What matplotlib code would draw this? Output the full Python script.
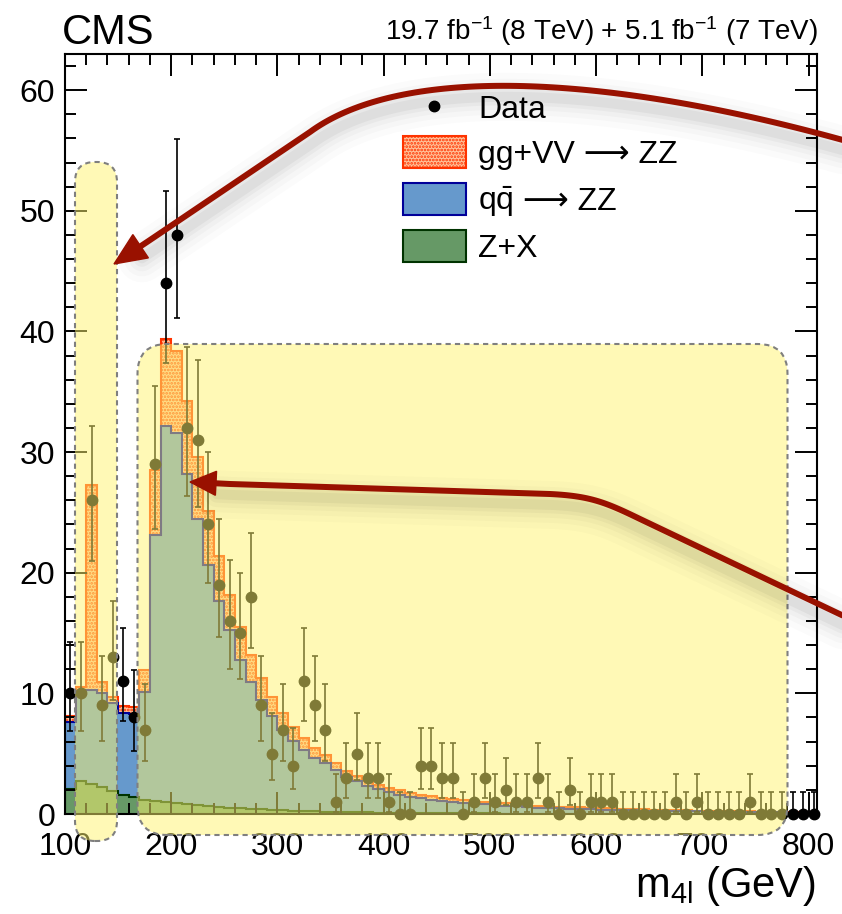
import math
import numpy as np
import matplotlib
matplotlib.use("Agg")
import matplotlib.pyplot as plt
from matplotlib.patches import FancyBboxPatch, Polygon, Rectangle
from matplotlib.lines import Line2D
from matplotlib.ticker import MultipleLocator

plt.rcParams['font.family'] = ['Liberation Sans', 'DejaVu Sans']
plt.rcParams['mathtext.fontset'] = 'custom'
plt.rcParams['mathtext.rm'] = 'Liberation Sans'
plt.rcParams['mathtext.it'] = 'Liberation Sans:italic'
plt.rcParams['mathtext.bf'] = 'Liberation Sans:bold'
plt.rcParams['hatch.linewidth'] = 1.3

# m4l spectrum, 10 GeV bins starting at 100 GeV
bin_start = 100
bin_width = 10

n_obs = [10, 10, 26, 9, 13, 11, 8, 7, 29, 44,
         48, 32, 31, 24, 19, 16, 15, 18, 9, 5,
         7, 4, 11, 9, 7, 1, 3, 5, 3, 3,
         1, 0, 0, 4, 4, 3, 3, 0, 1, 3,
         1, 2, 1, 1, 3, 1, 0, 2, 0, 1,
         1, 1, 0, 0, 0, 0, 0, 1, 0, 1,
         0, 0, 0, 0, 1, 0, 0, 0, 0, 0,
         0]

zx_bkg = [2.1, 2.7, 2.5, 2.2, 1.9, 1.6, 1.4, 1.2, 1.1, 1.0,
          0.9, 0.8, 0.72, 0.65, 0.58, 0.52, 0.47, 0.42, 0.38, 0.34,
          0.3, 0.27, 0.24, 0.22, 0.2, 0.18, 0.16, 0.14, 0.13, 0.12,
          0.11, 0.1, 0.09, 0.08, 0.07, 0.07, 0.06, 0.06, 0.05, 0.05,
          0.05, 0.04, 0.04, 0.04, 0.03, 0.03, 0.03, 0.03, 0.03, 0.02,
          0.02, 0.02, 0.02, 0.02, 0.02, 0.02, 0.02, 0.02, 0.02, 0.02,
          0.02, 0.02, 0.02, 0.01, 0.01, 0.01, 0.01, 0.01, 0.01, 0.01,
          0.01]

qq_zz = [5.55, 7.5, 7.8, 7.8, 7.3, 6.8, 6.9, 8.9, 22.0, 31.15,
         30.65, 27.4, 23.7, 19.95, 17.1, 14.7, 12.3, 10.55, 9.05, 7.75,
         6.65, 5.8, 5.05, 4.4, 4.0, 3.47, 2.94, 2.59, 2.19, 1.92,
         1.69, 1.5, 1.34, 1.22, 1.12, 1.03, 0.94, 0.88, 0.81, 0.75,
         0.68, 0.64, 0.59, 0.54, 0.5, 0.47, 0.44, 0.41, 0.39, 0.36,
         0.34, 0.32, 0.3, 0.28, 0.26, 0.24, 0.23, 0.21, 0.2, 0.19,
         0.18, 0.17, 0.16, 0.15, 0.14, 0.13, 0.12, 0.11, 0.1, 0.09,
         0.09]

gg_zz = [0.5, 0.35, 17.0, 0.95, 0.5, 0.55, 0.6, 1.8, 5.4, 7.2,
         6.8, 6.0, 5.2, 4.5, 3.7, 2.95, 2.7, 2.25, 1.85, 1.6,
         1.44, 1.13, 0.97, 0.84, 0.7, 0.55, 0.5, 0.42, 0.41, 0.36,
         0.35, 0.35, 0.34, 0.3, 0.27, 0.25, 0.25, 0.23, 0.24, 0.2,
         0.21, 0.2, 0.17, 0.17, 0.17, 0.16, 0.15, 0.14, 0.14, 0.14,
         0.13, 0.12, 0.11, 0.11, 0.1, 0.1, 0.09, 0.09, 0.08, 0.08,
         0.08, 0.07, 0.07, 0.06, 0.06, 0.06, 0.06, 0.06, 0.06, 0.06,
         0.05]

# each legend label is a list of pieces, drawn one after another
legend_labels = [['Data'], ['gg+VV \u27f6 ZZ'],
                 [r'q$\bar{\mathrm{q}}$', ' \u27f6 ZZ'], ['Z+X']]
lumi_text = r'19.7 fb$^{-1}$ (8 TeV) + 5.1 fb$^{-1}$ (7 TeV)'

W, H = 842, 914


def poisson_cdf(k, mu):
    term = math.exp(-mu)
    s = term
    for i in range(1, k + 1):
        term *= mu / i
        s += term
    return s


def bisect(f, lo, hi):
    for _ in range(80):
        mid = 0.5 * (lo + hi)
        if f(mid) > 0:
            lo = mid
        else:
            hi = mid
    return 0.5 * (lo + hi)


def garwood(n, cl=0.6827):
    # classic central Poisson interval for an observed count
    a = (1 - cl) / 2
    up = bisect(lambda mu: poisson_cdf(n, mu) - a, 0, n + 10 + 6 * math.sqrt(n + 1))
    if n == 0:
        low = 0.0
    else:
        low = bisect(lambda mu: a - (1 - poisson_cdf(n - 1, mu)), 0, n)
    return n - low, up - n


def px(x, y):
    # pixel position (top-left origin) -> inches for dpi_scale_trans
    return x / 100.0, (H - y) / 100.0


counts = np.array(n_obs)
zx = np.array(zx_bkg)
qq_top = zx + np.array(qq_zz)
total = qq_top + np.array(gg_zz)
edges = bin_start + bin_width * np.arange(len(counts) + 1)
centers = 0.5 * (edges[1:] + edges[:-1])
err = np.array([garwood(int(n)) for n in counts]).T

fig = plt.figure(figsize=(W / 100, H / 100), dpi=100)
ax = fig.add_axes([65 / W, 1 - 814 / H, (817 - 65) / W, (814 - 54) / H])
ax.set_axisbelow(False)

gg_face = '#ffc49c'
ax.stairs(total, edges, fill=True, facecolor=gg_face, edgecolor='#ff3300',
          hatch='.....', linewidth=1.5, zorder=0.5)
ax.stairs(qq_top, edges, fill=True, facecolor='#6699cc', edgecolor='#000099',
          linewidth=1.5, zorder=0.6)
ax.stairs(zx, edges, fill=True, facecolor='#669966', edgecolor='#003300',
          linewidth=1.5, zorder=0.7)

ax.errorbar(centers, counts, yerr=err, fmt='o', color='black', ms=7.5,
            elinewidth=1.2, capsize=2.5, capthick=1.2, zorder=4, clip_on=False)

ax.set_xlim(100, 808)
ax.set_ylim(0, 63)
ax.xaxis.set_major_locator(MultipleLocator(100))
ax.xaxis.set_minor_locator(MultipleLocator(20))
ax.yaxis.set_major_locator(MultipleLocator(10))
ax.yaxis.set_minor_locator(MultipleLocator(2))
ax.tick_params(which='both', direction='in', top=True, right=True, width=1.4,
               labelsize=23)
ax.tick_params(which='major', length=16)
ax.tick_params(which='minor', length=8)
ax.tick_params(axis='x', pad=13)
ax.tick_params(axis='y', pad=7)
for s in ax.spines.values():
    s.set_linewidth(1.5)

fig.text(62 / W, 1 - 44 / H, 'CMS', fontsize=30, va='baseline')
fig.text(818 / W, 1 - 40 / H, lumi_text, fontsize=20, ha='right', va='baseline')
fig.text(816 / W, 1 - 897 / H, r'm$_{\mathrm{4l}}$ (GeV)', fontsize=30,
         ha='right', va='baseline')

# legend
tr = fig.dpi_scale_trans
renderer = fig.canvas.get_renderer()


def legend_text(x, baseline, pieces):
    for piece in pieces:
        t = fig.text(x / W, 1 - baseline / H, piece, fontsize=23, va='baseline')
        x = t.get_window_extent(renderer).x1 * 100.0 / fig.dpi


fig.add_artist(Line2D([px(434, 106)[0]], [px(434, 106)[1]], marker='o', color='black',
                      ms=7.5, transform=tr, zorder=4))
legend_text(478, 118, legend_labels[0])
box_styles = [(gg_face, '#ff3300', '.....'), ('#6699cc', '#000099', None),
              ('#669966', '#003300', None)]
for i, (fc, ec, hatch) in enumerate(box_styles):
    top = 136 + 47 * i
    x0, y0 = px(403, top + 32)
    fig.add_artist(Rectangle((x0, y0), 0.63, 0.32, facecolor=fc, edgecolor=ec,
                             hatch=hatch, linewidth=1.5, transform=tr, zorder=4))
    legend_text(478, top + 27, legend_labels[i + 1])

# highlight boxes
highlight = (1.0, 0.96, 0.43, 0.5)
for (x0, y0, x1, y1, r) in [(75, 162, 117, 841, 20), (137.5, 344, 787.5, 835, 30)]:
    bx, by = px(x0, y1)
    fig.add_artist(FancyBboxPatch((bx, by), (x1 - x0) / 100, (y1 - y0) / 100,
                                  boxstyle=f"round,pad=0,rounding_size={r / 100}",
                                  facecolor=highlight, edgecolor='#7f7f7f',
                                  linewidth=1.5, linestyle=(0, (2.5, 2)),
                                  transform=tr, zorder=5))


def bezier(p0, p1, p2, p3, n=80):
    t = np.linspace(0, 1, n)[:, None]
    p0, p1, p2, p3 = map(np.asarray, (p0, p1, p2, p3))
    return ((1 - t) ** 3 * p0 + 3 * (1 - t) ** 2 * t * p1
            + 3 * (1 - t) * t ** 2 * p2 + t ** 3 * p3)


def draw_arrow(shaft, tip, head_len, head_half, color='#991100'):
    tip = np.asarray(tip, float)
    d = tip - shaft[-1]
    d /= np.hypot(*d)
    nrm = np.array([-d[1], d[0]])
    base = tip - d * head_len
    pts = np.vstack([shaft, base + d * 2])
    head = np.array([tip, base + nrm * head_half, base - nrm * head_half])
    # soft drop shadow
    for w, a in [(48, 0.015), (36, 0.02), (26, 0.025), (17, 0.03), (10, 0.04)]:
        sx = (pts[:, 0] + 3) / 100.0
        sy = (H - pts[:, 1] - 11) / 100.0
        fig.add_artist(Line2D(sx, sy, color='black', lw=w * 0.72, alpha=a,
                              solid_capstyle='round', transform=tr, zorder=6))
    fig.add_artist(Line2D(pts[:, 0] / 100.0, (H - pts[:, 1]) / 100.0, color=color,
                          lw=6 * 0.72, solid_capstyle='butt', transform=tr, zorder=7))
    hx = head[:, 0] / 100.0
    hy = (H - head[:, 1]) / 100.0
    fig.add_artist(Polygon(np.c_[hx, hy], closed=True, facecolor=color,
                           edgecolor=color, linewidth=1, transform=tr, zorder=7))


# upper arrow towards the low-mass box
curve1 = bezier((850, 142), (600, 72), (400, 66), (310, 132))
line1 = np.linspace((310, 132), (150, 240), 20)
draw_arrow(np.vstack([curve1, line1]), (114, 264), 32, 14)

# lower arrow towards the high-mass box
seg_a = np.linspace((850, 619), (640, 519), 20)
bend = bezier((640, 519), (605, 502), (590, 496), (550, 494), 30)
seg_b = np.linspace((550, 494), (230, 484), 20)
draw_arrow(np.vstack([seg_a, bend, seg_b]), (190, 482), 26, 12)

fig.savefig('out.png', dpi=100)
